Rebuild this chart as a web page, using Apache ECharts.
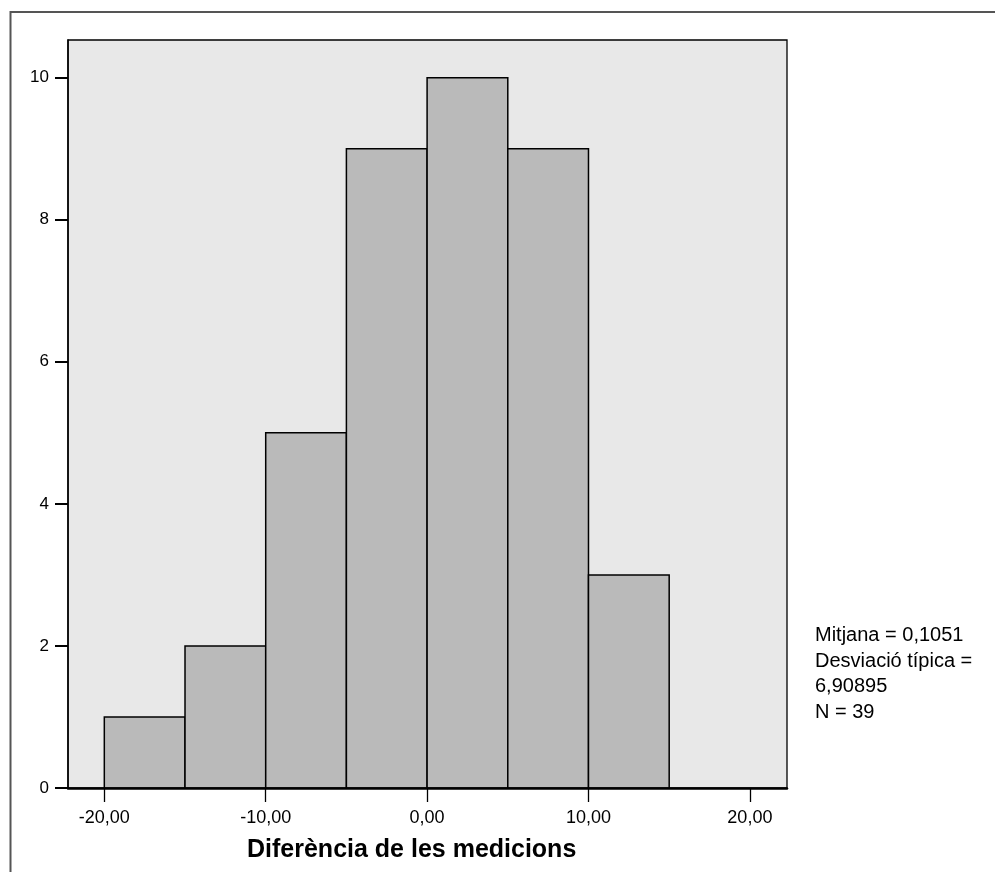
<!DOCTYPE html>
<html>
<head>
<meta charset="utf-8">
<script src="https://cdn.jsdelivr.net/npm/echarts@6/dist/echarts.min.js"></script>
<style>
html,body{margin:0;padding:0;background:#fff;}
#chart{width:995px;height:872px;}
</style>
</head>
<body>
<div id="chart"></div>
<script>
// ---- data ----
const binStarts = [-20, -15, -10, -5, 0, 5, 10];
const binEnds   = [-15, -10, -5, 0, 5, 10, 15];
const counts    = [1, 2, 5, 9, 10, 9, 3];
const xTicks = [-20, -10, 0, 10, 20];
const yTicks = [0, 2, 4, 6, 8, 10];
const xTitle = 'Diferència de les medicions';
const statsLines = ['Mitjana = 0,1051', 'Desviació típica =', '6,90895', 'N = 39'];

const FONT = '"Liberation Sans", Arial, Helvetica, sans-serif';
const chart = echarts.init(document.getElementById('chart'), null, {renderer: 'canvas'});

const histData = binStarts.map((s, i) => [s, binEnds[i], counts[i]]);

const option = {
  animation: false,
  backgroundColor: '#ffffff',
  grid: {
    left: 68, right: 208, top: 40, bottom: 84,
    show: true, backgroundColor: '#e8e8e8', borderColor: '#000', borderWidth: 1.3
  },
  xAxis: {
    type: 'value', min: -22.25, max: 22.3, z: 10,
    axisLine: {show: true, onZero: false, lineStyle: {color: '#000', width: 2.5}},
    axisTick: {show: true, customValues: xTicks, length: 14, lineStyle: {color: '#000', width: 1.3}},
    axisLabel: {
      customValues: xTicks, margin: 21, color: '#000', fontFamily: FONT, fontSize: 18,
      formatter: v => v.toFixed(2).replace('.', ',')
    },
    splitLine: {show: false}
  },
  yAxis: {
    type: 'value', min: 0, max: 10.53, z: 10,
    axisLine: {show: true, onZero: false, lineStyle: {color: '#000', width: 1.5}},
    axisTick: {show: true, customValues: yTicks, length: 13, lineStyle: {color: '#000', width: 2}},
    axisLabel: {
      customValues: yTicks, margin: 19, color: '#000', fontFamily: FONT, fontSize: 17,
      formatter: v => String(Math.round(v))
    },
    splitLine: {show: false}
  },
  series: [{
    type: 'custom',
    data: histData,
    encode: {x: [0, 1], y: 2},
    renderItem: function (params, api) {
      const p0 = api.coord([api.value(0), 0]);
      const p1 = api.coord([api.value(1), api.value(2)]);
      return {
        type: 'rect',
        shape: {x: p0[0], y: p1[1], width: p1[0] - p0[0], height: p0[1] - p1[1]},
        style: {fill: '#bababa', stroke: '#000', lineWidth: 1.5}
      };
    }
  }],
  graphic: [
    {
      type: 'rect', silent: true, z: 0,
      shape: {x: 10.5, y: 12, width: 1100, height: 1000},
      style: {fill: 'none', stroke: '#555', lineWidth: 2}
    },
    {
      type: 'text', left: 410 - 163, top: 838, z: 20,
      style: {text: xTitle, fill: '#000', font: 'bold 25px ' + FONT}
    },
    {
      type: 'text', left: 815, top: 623, z: 20,
      style: {text: statsLines.join('\n'), fill: '#000', font: '20px ' + FONT, lineHeight: 25.5}
    }
  ]
};
chart.setOption(option);
</script>
</body>
</html>
